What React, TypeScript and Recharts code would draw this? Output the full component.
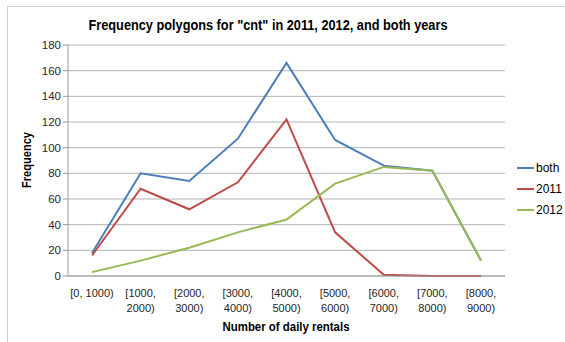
import { LineChart, Line, XAxis, YAxis, CartesianGrid } from "recharts"

const bins = [
    "[0, 1000)", "[1000, 2000)", "[2000, 3000)", "[3000, 4000)", "[4000, 5000)",
    "[5000, 6000)", "[6000, 7000)", "[7000, 8000)", "[8000, 9000)",
]
const both = [18, 80, 74, 107, 166, 106, 86, 82, 12]
const y2011 = [16, 68, 52, 73, 122, 34, 1, 0, 0]
const y2012 = [3, 12, 22, 34, 44, 72, 85, 82, 12]
const yTicks = [0, 20, 40, 60, 80, 100, 120, 140, 160, 180]

const data = bins.map((bin, i) => ({ bin, both: both[i], y2011: y2011[i], y2012: y2012[i] }))

const series = [
    { key: "both", name: "both", color: "#4A7EBB" },
    { key: "y2011", name: "2011", color: "#BE4B48" },
    { key: "y2012", name: "2012", color: "#98B954" },
]

const font = "'Liberation Sans', Arial, sans-serif"

const BinTick = (props: any) => {
    const { x, y, payload } = props
    const label: string = payload.value
    const parts = label.startsWith("[0,") ? [label] : label.split(" ")
    return (
        <text x={x} y={y} textAnchor="middle" fontSize={11} fill="#262626" fontFamily={font}>
            {parts.map((p, i) => (
                <tspan key={i} x={x} dy={i === 0 ? 13 : 15}>{p}</tspan>
            ))}
        </text>
    )
}

const App = () => {
    return (
        <div style={{ position: "fixed", left: 0, top: 0, width: 565, height: 342, background: "#fff", fontFamily: font }}>
            <div style={{ position: "absolute", left: 7, top: 6, width: 600, height: 400, borderLeft: "1px solid #d0d0d0", borderTop: "1px solid #d0d0d0" }} />
            <div style={{ position: "absolute", left: 0, top: 0 }}>
                <LineChart width={565} height={342} data={data} margin={{ top: 45, right: 60, bottom: 0, left: 10 }}>
                    <CartesianGrid vertical={false} stroke="#b4b4b4" />
                    <XAxis dataKey="bin" tick={<BinTick />} tickLine={false} axisLine={{ stroke: "#9a9a9a" }} interval={0} height={66}
                        padding={{ left: 24, right: 24 }} />
                    <YAxis domain={[0, 180]} ticks={yTicks} width={58} tickSize={5} tickLine={{ stroke: "#9a9a9a" }}
                        axisLine={{ stroke: "#9a9a9a" }} tick={{ fontSize: 11.5, fill: "#262626", fontFamily: font }} />
                    {series.map(s => (
                        <Line key={s.key} type="linear" dataKey={s.key} name={s.name} stroke={s.color}
                            strokeWidth={2} dot={false} isAnimationActive={false} />
                    ))}
                </LineChart>
            </div>
            <svg width={565} height={342} style={{ position: "absolute", left: 0, top: 0, pointerEvents: "none" }}>
                <text x={268} y={30} textAnchor="middle" fontSize={14} fontWeight="bold" fill="#000" fontFamily={font}
                    textLength={359} lengthAdjust="spacingAndGlyphs">
                    Frequency polygons for "cnt" in 2011, 2012, and both years
                </text>
                <text x={286} y={331} textAnchor="middle" fontSize={12} fontWeight="bold" fill="#000" fontFamily={font}
                    textLength={127} lengthAdjust="spacingAndGlyphs">
                    Number of daily rentals
                </text>
                <text x={31} y={160} textAnchor="middle" fontSize={12} fontWeight="bold" fill="#000" fontFamily={font}
                    transform="rotate(-90 31 160)" textLength={56} lengthAdjust="spacingAndGlyphs">
                    Frequency
                </text>
            </svg>
            {series.map((s, i) => (
                <div key={s.key} style={{ position: "absolute", left: 517, top: 160 + i * 21, height: 15, display: "flex", alignItems: "center", fontSize: 12, color: "#000" }}>
                    <div style={{ width: 17, height: 2, background: s.color, marginRight: 2 }} />
                    <span>{s.name}</span>
                </div>
            ))}
        </div>
    )
}

export default App
